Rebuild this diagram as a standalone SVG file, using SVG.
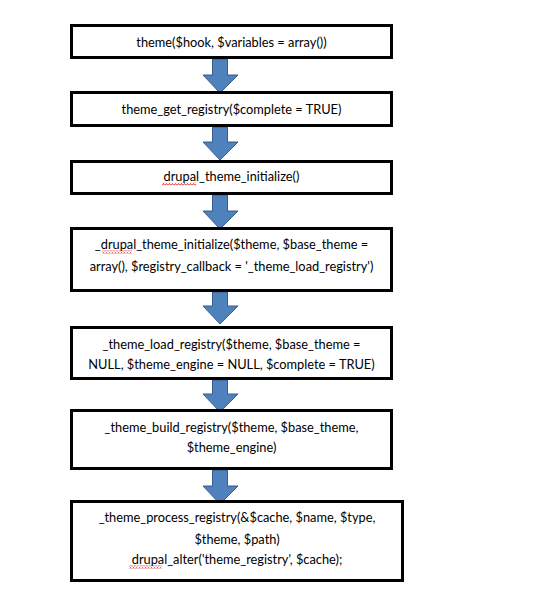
<svg xmlns="http://www.w3.org/2000/svg" width="554" height="594" viewBox="0 0 554 594">
<style>
.box{fill:#fff;stroke:#000;stroke-width:3}
.t{font-family:Lato,"Liberation Sans",sans-serif;font-size:12.8px;fill:#000;text-anchor:middle}
.arr{fill:#4F81BD;stroke:#385D8A;stroke-width:1}
.sq{fill:none;stroke:#e00000;stroke-width:0.8}
</style>
<defs>
<pattern id="wave" width="3" height="3" patternUnits="userSpaceOnUse">
<path d="M0,2.5 L1.5,0.5 L3,2.5" fill="none" stroke="#e00000" stroke-width="0.8"/>
</pattern>
</defs>
<rect width="554" height="594" fill="#fff"/>
<g id="connectors">
<path class="arr" d="M212.5,59 H227.5 V75 H238 L220,93 L203,75 H212.5 Z"/>
<path class="arr" d="M212.5,127 H227.5 V142 H238 L220,160 L203,142 H212.5 Z"/>
<path class="arr" d="M212.5,195 H227.5 V211 H238 L220,229 L203,211 H212.5 Z"/>
<path class="arr" d="M212.5,292 H227.5 V306 H238 L220,324 L203,306 H212.5 Z"/>
<path class="arr" d="M212.5,380 H227.5 V394 H238 L220,412 L203,394 H212.5 Z"/>
<path class="arr" d="M212.5,470 H227.5 V486 H238 L220,504 L203,486 H212.5 Z"/>
</g>
<g id="n1"><rect class="box" x="71.5" y="25.5" width="320" height="32"/><text class="t" x="231.5" y="47">theme($hook, $variables = array())</text></g>
<g id="n2"><rect class="box" x="71.5" y="92.5" width="320" height="33"/><text class="t" x="231.5" y="114">theme_get_registry($complete = TRUE)</text></g>
<g id="n3"><rect class="box" x="71.5" y="161.5" width="320" height="32"/><text class="t" x="231.5" y="181">drupal_theme_initialize()</text><rect x="162" y="182.5" width="34" height="3" fill="url(#wave)"/></g>
<g id="n4"><rect class="box" x="71.5" y="228.5" width="320" height="62"/><text class="t" x="231.5" y="249">_drupal_theme_initialize($theme, $base_theme =</text><text class="t" x="231.5" y="271">array(), $registry_callback = '_theme_load_registry')</text><rect x="102" y="250.5" width="30" height="3" fill="url(#wave)"/></g>
<g id="n5"><rect class="box" x="71.5" y="327.5" width="320" height="51"/><text class="t" x="231.5" y="349">_theme_load_registry($theme, $base_theme =</text><text class="t" x="231.5" y="369">NULL, $theme_engine = NULL, $complete = TRUE)</text></g>
<g id="n6"><rect class="box" x="71.5" y="410.5" width="320" height="58"/><text class="t" x="231.5" y="432">_theme_build_registry($theme, $base_theme,</text><text class="t" x="231.5" y="452">$theme_engine)</text></g>
<g id="n7"><rect class="box" x="71.5" y="501.5" width="331" height="79"/><text class="t" x="237" y="522">_theme_process_registry(&amp;$cache, $name, $type,</text><text class="t" x="237" y="544">$theme, $path)</text><text class="t" x="237" y="564">drupal_alter('theme_registry', $cache);</text><rect x="129" y="565.5" width="33" height="3" fill="url(#wave)"/></g>
</svg>
